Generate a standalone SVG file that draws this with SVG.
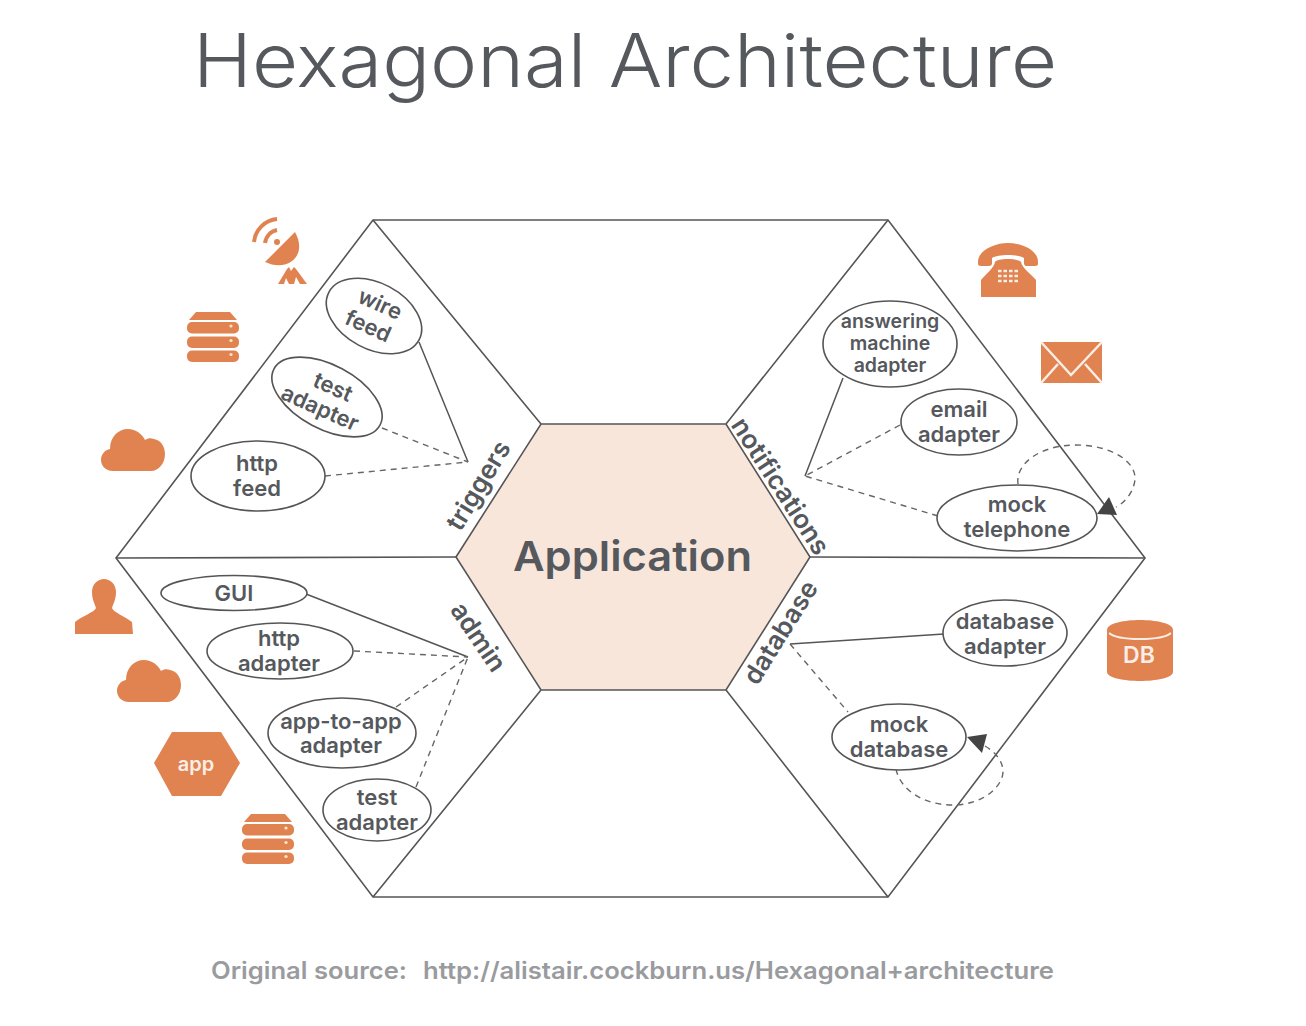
<svg xmlns="http://www.w3.org/2000/svg" width="1306" height="1026" viewBox="0 0 1306 1026">
<style>
.hex{fill:none;stroke:#555;stroke-width:1.6}
.e{fill:#fff;stroke:#555;stroke-width:1.6}
.s{fill:none;stroke:#555;stroke-width:1.5}
.d{fill:none;stroke:#666;stroke-width:1.4;stroke-dasharray:6 5}
text{font-family:"Inter","Liberation Sans",sans-serif;fill:#55585c}
.l{font-size:19.500px;font-weight:600;text-anchor:middle}
.g{font-size:22px;font-weight:600;text-anchor:middle}
.r{font-size:26px;font-weight:600;text-anchor:middle}
.i{fill:#e08350}
.w{fill:#fbeee6;font-weight:600;text-anchor:middle}
</style>
<defs>
<g id="cloud"><path class="i" d="M12 42C4 42 0 36 0 31C0 25 4 21 9 20C9 8 17 0 27 0C35 0 41 5 44 11C47 9 50 9 53 10C60 11 64 18 64 25C64 35 57 42 50 42Z"/></g>
<g id="server"><path class="i" d="M9 0H43L50 8H2Z"/><rect class="i" x="0" y="10" width="52" height="11.500" rx="5"/><rect class="i" x="0" y="24.500" width="52" height="11.500" rx="5"/><rect class="i" x="0" y="38.500" width="52" height="11.500" rx="5"/><circle cx="44" cy="14" r="1.600" fill="#fde7c8"/><circle cx="44" cy="28.500" r="1.600" fill="#fde7c8"/><circle cx="44" cy="42.500" r="1.600" fill="#fde7c8"/></g>
</defs>
<rect width="1306" height="1026" fill="#fff"/>
<text id="title" x="193" y="87" font-size="74" font-weight="300" textLength="864" lengthAdjust="spacingAndGlyphs" fill="#55585c">Hexagonal Architecture</text>

<g id="frame">
<polygon class="hex" points="116,558 373,220 888,220 1145,558 888,897 373,897"/>
<path class="hex" d="M373 220L541 424M888 220L726 424M116 558L456 557M810 557L1145 558M373 897L541 690M888 897L726 690"/>
</g>
<g id="application"><polygon points="456,557 541,424 726,424 810,557 726,690 541,690" fill="#f9e6db" stroke="#555" stroke-width="1.6"/>
<text x="632.500" y="571" font-size="41" font-weight="600" text-anchor="middle" textLength="239" lengthAdjust="spacingAndGlyphs">Application</text></g>

<g id="connectors">
<path class="s" d="M419 342L468 462M306 594L468 657M790 644L944 634M843 378L805 476"/>
<path class="d" d="M382 428L468 462M325 476L468 462M354 651L468 657M396 707L468 657M416 787L468 657M900 425L805 476M938 516L805 476M790 644L848 712"/>
<path class="d" d="M1018 484C1015 464 1040 445 1076 445C1112 445 1136 462 1135 479C1134 493 1123 504 1116 507"/>
<path d="M1097 514L1109 497L1117 515Z" fill="#444"/>
<path class="d" d="M896 769C900 790 925 806 955 805C985 804 1004 785 1003 770C1002 760 995 752 985 746"/>
<path d="M967 737L987 734L982 753Z" fill="#444"/>
</g>

<g id="sector-labels">
<text class="r" transform="translate(486 490) rotate(-59)">triggers</text>
<text class="r" transform="translate(773 491) rotate(57)">notifications</text>
<text class="r" transform="translate(471 642) rotate(56)">admin</text>
<text class="r" transform="translate(788 637) rotate(-58)">database</text>
</g>

<g id="wire-feed"><ellipse class="e" cx="374" cy="316" rx="51" ry="33" transform="rotate(28 374 316)"/>
<text class="g" transform="translate(377 311) rotate(24)">wire</text><text class="g" transform="translate(365 333) rotate(24)">feed</text></g>
<g id="test-adapter-trigger"><ellipse class="e" cx="327" cy="397" rx="60" ry="32" transform="rotate(28 327 397)"/>
<text class="g" transform="translate(330 394) rotate(24)">test</text><text class="g" transform="translate(317 415) rotate(24)">adapter</text></g>
<g id="http-feed"><ellipse class="e" cx="258" cy="476" rx="67" ry="35"/>
<text class="g" x="257" y="471">http</text><text class="g" x="257" y="496">feed</text></g>

<g id="gui"><ellipse class="e" cx="234" cy="593" rx="73" ry="17.500"/><text class="g" x="234" y="601">GUI</text></g>
<g id="http-adapter"><ellipse class="e" cx="280" cy="651" rx="73" ry="28"/>
<text class="g" x="279" y="646">http</text><text class="g" x="279" y="671">adapter</text></g>
<g id="app-to-app-adapter"><ellipse class="e" cx="342" cy="733" rx="74" ry="35"/>
<text class="g" x="341" y="729">app-to-app</text><text class="g" x="341" y="753">adapter</text></g>
<g id="test-adapter-admin"><ellipse class="e" cx="377" cy="810" rx="54" ry="31"/>
<text class="g" x="377" y="805">test</text><text class="g" x="377" y="830">adapter</text></g>

<g id="answering-machine-adapter"><ellipse class="e" cx="890" cy="344" rx="67" ry="43"/>
<text class="l" x="890" y="328">answering</text><text class="l" x="890" y="350">machine</text><text class="l" x="890" y="372">adapter</text></g>
<g id="email-adapter"><ellipse class="e" cx="959" cy="422" rx="58" ry="33"/>
<text class="g" x="959" y="417">email</text><text class="g" x="959" y="442">adapter</text></g>
<g id="mock-telephone"><ellipse class="e" cx="1017" cy="518" rx="80" ry="33"/>
<text class="g" x="1017" y="512">mock</text><text class="g" x="1017" y="537">telephone</text></g>
<g id="database-adapter"><ellipse class="e" cx="1005" cy="633" rx="62" ry="33"/>
<text class="g" x="1005" y="629">database</text><text class="g" x="1005" y="654">adapter</text></g>
<g id="mock-database"><ellipse class="e" cx="899" cy="737" rx="67" ry="33"/>
<text class="g" x="899" y="732">mock</text><text class="g" x="899" y="757">database</text></g>

<g id="icon-satellite">
<path class="i" d="M295 232C301 243 301 254 292 261C284 267 274 266 265 262Z"/>
<path class="i" d="M278 284L287 269L289 267L291 271L294 267L296 269L307 284H300L296 277L294 284H289L286 278L284 284Z"/>
<path d="M254 242C255 230 265 220 277 219M265 243C266 236 271 231 277 230" fill="none" stroke="#e08350" stroke-width="4"/>
<circle class="i" cx="277" cy="242" r="3"/>
</g>
<use id="icon-server-1" href="#server" x="187" y="312"/>
<use id="icon-cloud-1" href="#cloud" x="101" y="429"/>
<g id="icon-user"><path class="i" d="M104 579C110 579 116 584 116 592C116 600 113 604 112 608C113 612 126 617 132 622L133 634H75V622C80 617 95 612 96 608C95 604 92 600 92 592C92 584 98 579 104 579Z"/></g>
<use id="icon-cloud-2" href="#cloud" x="117" y="660"/>
<g id="icon-app"><polygon class="i" points="154,763 172,732 221,732 240,763 221,796 172,796"/><text class="w" x="196" y="771" style="font-size:20px;fill:#fbeee6">app</text></g>
<use id="icon-server-2" href="#server" x="242" y="814"/>
<g id="icon-phone"><path class="i" d="M978 262C978 250 995 243 1008 243C1022 243 1038 250 1038 262V264C1038 265 1037 266 1035 266H1026C1025 266 1024 265 1024 263V258C1018 254 998 254 992 258V263C992 265 991 266 989 266H981C979 266 978 265 978 264ZM995 262C997 258 1018 258 1021 262C1022 268 1031 274 1036 280V297H981V280C986 274 994 268 995 262Z"/>
<path d="M998 271h20M998 276h20M998 281h20" stroke="#fbeee6" stroke-width="2.500" stroke-dasharray="3.500 2" fill="none"/></g>
<g id="icon-mail"><rect class="i" x="1041" y="342" width="61" height="41"/><path d="M1041 342L1071 375L1102 342M1041 383L1058 364M1102 383L1085 364" fill="none" stroke="#fbeee6" stroke-width="2.500"/></g>
<g id="icon-db"><path class="i" d="M1107 630C1107 623 1125 620 1140 620C1155 620 1173 623 1173 630V672C1173 678 1155 681 1140 681C1125 681 1107 678 1107 672Z"/>
<path d="M1109 633C1118 641 1162 641 1171 633" fill="none" stroke="#fbeee6" stroke-width="1.800"/>
<text class="w" x="1139" y="663" style="font-size:23px;fill:#fbeee6">DB</text></g>

<g id="source" style="font-size:24px;font-weight:600">
<text x="211" y="979" textLength="196" lengthAdjust="spacingAndGlyphs" style="fill:#999b9e">Original source:</text>
<text x="423" y="979" textLength="631" lengthAdjust="spacingAndGlyphs" style="fill:#999b9e">http://alistair.cockburn.us/Hexagonal+architecture</text>
</g>
</svg>
